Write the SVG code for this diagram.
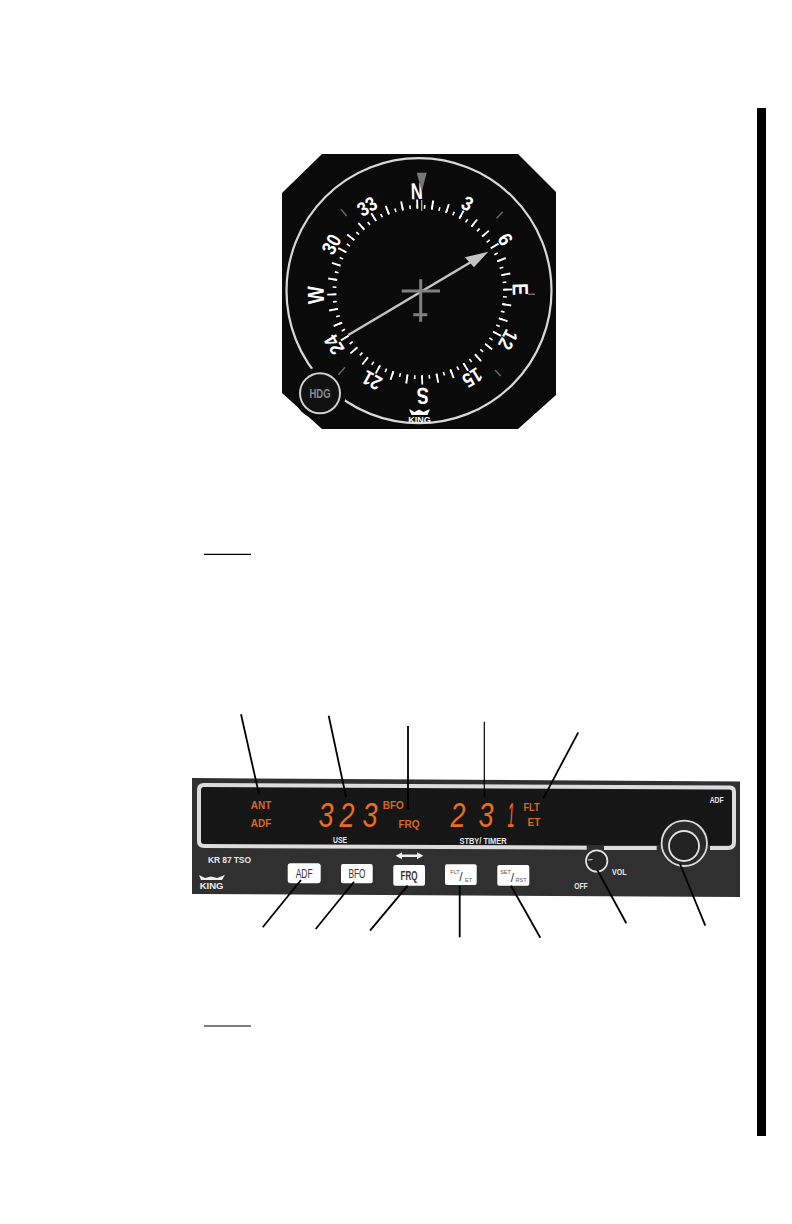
<svg xmlns="http://www.w3.org/2000/svg" width="792" height="1224" viewBox="0 0 792 1224">
<style>
text{font-family:"Liberation Sans",Arial,sans-serif}
.card{fill:#fff;font-weight:700;text-anchor:middle}
.led{fill:#d9681f;font-weight:700;font-size:10px;text-anchor:middle}
.seg{fill:#ea6c1e;font-family:Roboto,"Liberation Sans",sans-serif;font-weight:400;font-style:italic;font-size:35px;text-anchor:middle}
.pl{fill:#e8e8e8;font-weight:700;font-size:8.5px;text-anchor:middle}
.btn{fill:#fff}
.bt{fill:#333;font-size:12px;text-anchor:middle}
.bs{fill:#555;font-size:5.5px;text-anchor:middle}
.lead{stroke:#000;stroke-width:1.8;fill:none}
.g{stroke:#808080;stroke-width:3;fill:none}
.gt{stroke:#666;stroke-width:1.5;fill:none}
.frame{stroke:#dcdcdc;stroke-width:4;fill:none}
</style>
<rect width="792" height="1224" fill="#fff"/>
<rect x="757" y="108" width="9" height="1028" fill="#000"/>
<g id="indicator">
<polygon points="322,154 518,154 556,192 556,395 518,429 322,429 282,393 282,193" fill="#0a0a0a"/>
<circle cx="419" cy="290.7" r="132.5" fill="none" stroke="#d8d8d8" stroke-width="2.2"/>
<g transform="rotate(-1.6 419.7 292)">
<circle cx="419.7" cy="292" r="85.3" fill="none" stroke="#fff" stroke-width="3.8" pathLength="360" stroke-dasharray="1.1 3.9" stroke-dashoffset="0.55"/>
<circle cx="419.7" cy="292" r="88" fill="none" stroke="#fff" stroke-width="9" pathLength="360" stroke-dasharray="1.2 8.8" stroke-dashoffset="0.6"/>
<g class="card">
<text x="419.7" y="199" font-size="23" textLength="12" lengthAdjust="spacingAndGlyphs">N</text>
<text x="419.7" y="198.5" font-size="20" textLength="10" lengthAdjust="spacingAndGlyphs" transform="rotate(30 419.7 292)">3</text>
<text x="419.7" y="198.5" font-size="20" textLength="10" lengthAdjust="spacingAndGlyphs" transform="rotate(60 419.7 292)">6</text>
<text x="419.7" y="199" font-size="22" textLength="12" lengthAdjust="spacingAndGlyphs" transform="rotate(90 419.7 292)">E</text>
<text x="419.7" y="198.5" font-size="20" textLength="19" lengthAdjust="spacingAndGlyphs" transform="rotate(120 419.7 292)">12</text>
<text x="419.7" y="198.5" font-size="20" textLength="19" lengthAdjust="spacingAndGlyphs" transform="rotate(150 419.7 292)">15</text>
<text x="419.7" y="196" font-size="23" textLength="12" lengthAdjust="spacingAndGlyphs" transform="rotate(180 419.7 292)">S</text>
<text x="419.7" y="198.5" font-size="20" textLength="19" lengthAdjust="spacingAndGlyphs" transform="rotate(210 419.7 292)">21</text>
<text x="419.7" y="198.5" font-size="20" textLength="19" lengthAdjust="spacingAndGlyphs" transform="rotate(240 419.7 292)">24</text>
<text x="419.7" y="196" font-size="23" textLength="18" lengthAdjust="spacingAndGlyphs" transform="rotate(270 419.7 292)">W</text>
<text x="419.7" y="198.5" font-size="20" textLength="19" lengthAdjust="spacingAndGlyphs" transform="rotate(300 419.7 292)">30</text>
<text x="419.7" y="198.5" font-size="20" textLength="19" lengthAdjust="spacingAndGlyphs" transform="rotate(330 419.7 292)">33</text>
</g>
</g>
<polygon points="416.7,172.7 426.7,172.7 421.7,191.7" fill="#777"/>
<line x1="421.7" y1="200" x2="421.7" y2="211" stroke="#bbb" stroke-width="1.2"/>
<path class="gt" d="M341 209.3L346.7 216M496.7 218.3L502.7 211.7M495 370L500.7 376M338.3 375L345 367.3M528 294.3H535"/>
<path d="M348.3 335L471 262" stroke="#c4c4c4" stroke-width="2.6" fill="none"/>
<polygon points="488.3,251.7 465,257.3 470,263 474,267.3" fill="#c4c4c4"/>
<path class="g" d="M420.7 279.3V321.7M401.7 291H440M413.3 314.7H427.3"/>
<circle cx="320" cy="393.3" r="26" fill="#0a0a0a"/>
<circle cx="320" cy="393.3" r="20" fill="#111" stroke="#cfcfcf" stroke-width="2"/>
<text x="320" y="397.5" font-size="12" font-weight="700" fill="#8c8c8c" text-anchor="middle" textLength="21" lengthAdjust="spacingAndGlyphs">HDG</text>
<path d="M409 409L414.5 412L419 409.5L423.5 412L430 409L427.5 415H411.5Z" fill="#fff"/>
<text x="419.5" y="422.5" font-size="9" font-weight="700" fill="#fff" text-anchor="middle">KING</text>
</g>
<line x1="204" y1="554.3" x2="251" y2="554.3" stroke="#000" stroke-width="1.2"/>
<g id="control-head">
<polygon points="192,778 740,781.5 740,897 192,894" fill="#303030"/>
<polygon points="201,787 734,790 734,845 201,845" fill="#161616"/>
<path class="frame" d="M586.7 847.7L204 846Q199 846 199 841V790Q199 785 204 785L730 787.5Q734 787.5 734 792V842Q734 848 728 848H710M656.7 848H604"/>
<g class="led">
<text x="261" y="808.5">ANT</text><text x="261" y="826.5">ADF</text>
<text x="393.3" y="809">BFO</text><text x="409" y="827.5">FRQ</text>
<text x="531.5" y="810.5" textLength="16" lengthAdjust="spacingAndGlyphs">FLT</text><text x="534" y="826">ET</text>
</g>
<g class="seg">
<text x="326" y="827" textLength="15" lengthAdjust="spacingAndGlyphs">3</text><text x="347" y="827" textLength="15" lengthAdjust="spacingAndGlyphs">2</text><text x="370" y="827" textLength="15" lengthAdjust="spacingAndGlyphs">3</text>
<text x="458" y="827" textLength="15" lengthAdjust="spacingAndGlyphs">2</text><text x="486" y="827" textLength="15" lengthAdjust="spacingAndGlyphs">3</text><text x="511" y="827" textLength="7" lengthAdjust="spacingAndGlyphs">1</text>
</g>
<text class="pl" x="340" y="843" textLength="14" lengthAdjust="spacingAndGlyphs">USE</text>
<text class="pl" x="483" y="843.5" textLength="47" lengthAdjust="spacingAndGlyphs">STBY/ TIMER</text>
<text class="pl" x="716.7" y="803" textLength="14" lengthAdjust="spacingAndGlyphs">ADF</text>
<text class="pl" x="229.5" y="862.5" textLength="43" lengthAdjust="spacing">KR 87  TSO</text>
<path d="M199 875L205 878L211 876.5L217 878L225 875L222 880H201Z" fill="#eee"/>
<text x="211.5" y="889" font-size="9.5" font-weight="700" fill="#eee" text-anchor="middle">KING</text>
<g id="btn-adf"><rect class="btn" x="287.7" y="863.3" width="33" height="20" rx="3"/><text class="bt" x="304.2" y="877.5" textLength="17" lengthAdjust="spacingAndGlyphs">ADF</text></g>
<g id="btn-bfo"><rect class="btn" x="341" y="864" width="31.7" height="19.3" rx="2"/><text class="bt" x="357" y="878" textLength="17" lengthAdjust="spacingAndGlyphs">BFO</text></g>
<g id="btn-frq"><rect class="btn" x="393.3" y="865" width="31.7" height="20.7" rx="2"/><text class="bt" x="409" y="880" font-weight="700" textLength="17" lengthAdjust="spacingAndGlyphs">FRQ</text></g>
<path d="M395.7 855.7L402 852.2V854.5H417V852.2L423.3 855.7L417 859.2V856.9H402V859.2Z" fill="#f0f0f0"/>
<g id="btn-flt"><rect class="btn" x="445" y="864.3" width="31.7" height="20.7" rx="2"/><text class="bs" x="455" y="873.5">FLT</text><text class="bt" x="461" y="881">/</text><text class="bs" x="468.5" y="881.5">ET</text></g>
<g id="btn-set"><rect class="btn" x="497.3" y="865" width="32" height="20.7" rx="2"/><text class="bs" x="505.5" y="874">SET</text><text class="bt" x="512.5" y="881.5">/</text><text class="bs" x="521" y="882">RST</text></g>
<g id="vol-knob"><circle cx="596.7" cy="861" r="10.7" fill="#262626" stroke="#e4e4e4" stroke-width="1.7"/><line x1="588" y1="860" x2="592.5" y2="859.5" stroke="#e4e4e4"/>
<text class="pl" x="619.3" y="874.5" textLength="14.5" lengthAdjust="spacingAndGlyphs">VOL</text><text class="pl" x="581" y="888.5" textLength="13.5" lengthAdjust="spacingAndGlyphs">OFF</text></g>
<g id="adf-knob"><circle cx="684.3" cy="843.3" r="22.7" fill="#2a2a2a" stroke="#dcdcdc" stroke-width="1.8"/><circle cx="684" cy="846" r="15" fill="#222" stroke="#e4e4e4" stroke-width="1.8"/></g>
</g>
<g id="connectors" class="lead">
<path d="M241 714.3L259 794.3"/>
<path d="M328.7 715.7L346 796.7"/>
<path d="M408 726V809"/>
<path d="M484.3 721.7V796.7" stroke-width="1.2"/>
<path d="M578.3 732.3L543.3 798.3"/>
<path d="M301 880L262.7 927.3"/>
<path d="M354 881.7L315.7 929"/>
<path d="M407.7 885.7L370 930.7"/>
<path d="M459.7 886V937.3"/>
<path d="M511 885.7L540.3 937.7"/>
<path d="M597.3 870L626.3 923.3"/>
<path d="M680 864L705.3 925.7"/>
</g>
<line x1="204" y1="1026" x2="251" y2="1026" stroke="#000" stroke-width="1.2"/>
</svg>
